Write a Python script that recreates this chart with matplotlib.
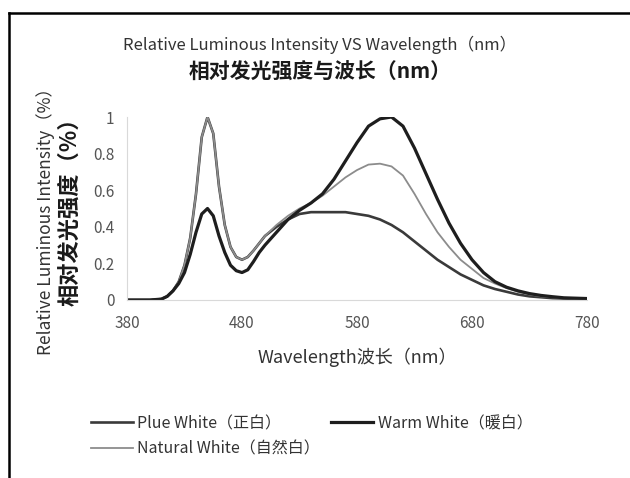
import matplotlib
matplotlib.use("Agg")
import matplotlib.pyplot as plt
from matplotlib.lines import Line2D

plt.rcParams['font.family'] = ['Noto Sans CJK SC', 'DejaVu Sans']

# wavelength (nm), 5 nm steps in the blue region, 10 nm afterwards
wavelength = [380, 390, 400, 410, 415, 420, 425, 430, 435, 440, 445, 450, 455, 460,
              465, 470, 475, 480, 485, 490, 495, 500, 510, 520, 530, 540, 550, 560,
              570, 580, 590, 600, 610, 620, 630, 640, 650, 660, 670, 680, 690, 700,
              710, 720, 730, 740, 750, 760, 770, 780]

plue_white = [0.0, 0.0, 0.0, 0.005, 0.02, 0.05, 0.10, 0.19, 0.34, 0.58, 0.89, 1.0, 0.91, 0.62,
              0.41, 0.29, 0.235, 0.22, 0.235, 0.27, 0.31, 0.35, 0.40, 0.44, 0.47, 0.48, 0.48, 0.48,
              0.48, 0.47, 0.46, 0.44, 0.41, 0.37, 0.32, 0.27, 0.22, 0.18, 0.14, 0.11, 0.08, 0.06,
              0.045, 0.03, 0.02, 0.015, 0.01, 0.008, 0.006, 0.005]

natural_white = [0.0, 0.0, 0.0, 0.005, 0.02, 0.05, 0.10, 0.19, 0.34, 0.58, 0.89, 1.0, 0.91, 0.62,
                 0.41, 0.29, 0.235, 0.22, 0.235, 0.27, 0.31, 0.35, 0.41, 0.46, 0.50, 0.53, 0.57, 0.62,
                 0.67, 0.71, 0.74, 0.745, 0.73, 0.68, 0.58, 0.47, 0.37, 0.29, 0.22, 0.17, 0.12, 0.09,
                 0.065, 0.045, 0.03, 0.02, 0.015, 0.01, 0.008, 0.006]

warm_white = [0.0, 0.0, 0.0, 0.005, 0.02, 0.05, 0.09, 0.15, 0.25, 0.37, 0.47, 0.50, 0.46, 0.35,
              0.26, 0.19, 0.16, 0.15, 0.165, 0.21, 0.26, 0.30, 0.37, 0.44, 0.49, 0.53, 0.58, 0.66,
              0.76, 0.86, 0.95, 0.99, 1.0, 0.95, 0.83, 0.69, 0.55, 0.42, 0.31, 0.22, 0.15, 0.10,
              0.07, 0.05, 0.035, 0.025, 0.018, 0.012, 0.01, 0.008]

xticks = [380, 480, 580, 680, 780]
yticks = [0, 0.2, 0.4, 0.6, 0.8, 1.0]
ytick_labels = ['0', '0.2', '0.4', '0.6', '0.8', '1']

fig = plt.figure(figsize=(6.3, 4.78), dpi=100)
ax = fig.add_axes([127/630, 1 - 300/478, 460/630, 183/478])

ax.plot(wavelength, plue_white, color='#3a3a3a', lw=1.9, label='Plue White（正白）')
ax.plot(wavelength, natural_white, color='#8c8c8c', lw=1.3, label='Natural White（自然白）')
ax.plot(wavelength, warm_white, color='#1e1e1e', lw=2.3, label='Warm White（暖白）')

ax.set_xlim(380, 780)
ax.set_ylim(0, 1)
ax.set_xticks(xticks)
ax.set_yticks(yticks)
ax.set_yticklabels(ytick_labels)
ax.tick_params(length=0, labelsize=11, labelcolor='#555555')
ax.tick_params(axis='x', pad=11)
ax.tick_params(axis='y', pad=9)
for s in ['top', 'right']:
    ax.spines[s].set_visible(False)
for s in ['left', 'bottom']:
    ax.spines[s].set_color('#d9d9d9')

ax.set_xlabel('Wavelength波长（nm）', fontsize=13, color='#333333', labelpad=11)

fig.text(0.508, 1 - 45/478, 'Relative Luminous Intensity VS Wavelength（nm）',
         ha='center', va='center', fontsize=12, color='#333333')
fig.text(0.508, 1 - 72/478, '相对发光强度与波长（nm）',
         ha='center', va='center', fontsize=15, fontweight='bold', color='#1a1a1a')
fig.text(46/630, 1 - 217/478, 'Relative Luminous Intensity（%）', rotation=90,
         ha='center', va='center', fontsize=12.5, color='#333333')
fig.text(70/630, 1 - 206/478, '相对发光强度（%）', rotation=90,
         ha='center', va='center', fontsize=16, fontweight='bold', color='#1a1a1a')

handles, labels = ax.get_legend_handles_labels()
fig.legend(handles, labels, ncol=2, frameon=False, fontsize=11.5,
           loc='upper left', bbox_to_anchor=(83/630, 1 - 407/478), borderpad=0,
           handlelength=2.6, handletextpad=0.3, columnspacing=0.7,
           labelspacing=0.55, labelcolor='#333333')

# outer frame (left and top edges visible in the scan)
fig.add_artist(Line2D([9/630, 9/630], [0, 1 - 13/478], transform=fig.transFigure,
                      color='black', lw=1.8))
fig.add_artist(Line2D([9/630, 1], [1 - 13/478, 1 - 13/478], transform=fig.transFigure,
                      color='black', lw=1.8))

plt.savefig('out.png', dpi=100, facecolor='white')
